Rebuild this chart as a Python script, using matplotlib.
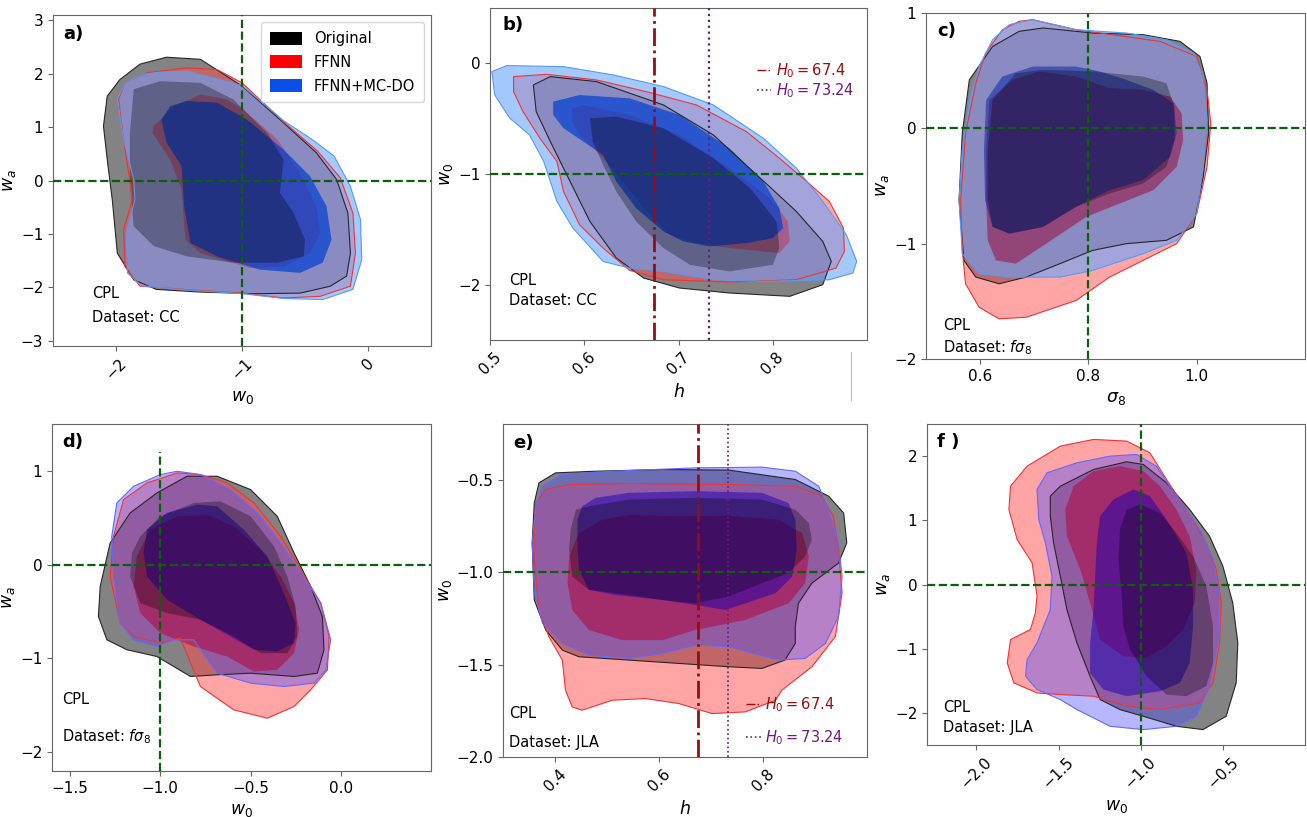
import matplotlib.pyplot as plt
from matplotlib.lines import Line2D
from matplotlib.patches import Patch

plt.rcParams['font.family'] = 'DejaVu Sans'
plt.rcParams['font.size'] = 10
plt.rcParams['mathtext.fontset'] = 'dejavusans'

# ---- contour boundaries: (x, y) in data units ----
# panel a: w0 vs wa, CC
a_orig_out = [(-1.60, 2.31), (-1.33, 2.27), (-1.00, 1.77), (-0.67, 1.08), (-0.41, 0.52), (-0.25, 0.02),
              (-0.16, -0.61), (-0.14, -1.36), (-0.17, -1.79), (-0.30, -1.98), (-0.54, -2.11), (-0.91, -2.12),
              (-1.33, -2.09), (-1.68, -2.04), (-1.86, -1.86), (-1.99, -1.36), (-2.03, -0.36), (-2.07, 0.39),
              (-2.10, 1.02), (-2.07, 1.58), (-1.97, 1.89), (-1.81, 2.18)]
a_red_out = [(-1.44, 2.11), (-1.20, 2.08), (-1.00, 1.83), (-0.67, 1.10), (-0.40, 0.55), (-0.22, 0.05),
             (-0.12, -0.61), (-0.10, -1.36), (-0.14, -1.98), (-0.38, -2.17), (-0.67, -2.20), (-1.00, -2.11),
             (-1.46, -2.04), (-1.81, -1.98), (-1.93, -1.61), (-1.94, -0.92), (-1.87, -0.36), (-1.90, 0.14),
             (-1.94, 0.77), (-1.98, 1.52), (-1.93, 1.83), (-1.75, 2.02)]
a_blue_out = [(-1.65, 2.03), (-1.44, 2.05), (-1.00, 1.78), (-0.67, 1.12), (-0.45, 0.78), (-0.27, 0.46),
              (-0.14, -0.11), (-0.06, -0.73), (-0.05, -1.48), (-0.12, -2.04), (-0.36, -2.23), (-0.67, -2.21),
              (-1.00, -2.12), (-1.46, -2.05), (-1.80, -1.97), (-1.91, -1.73), (-1.92, -0.98), (-1.85, -0.36),
              (-1.86, 0.02), (-1.94, 0.77), (-1.99, 1.52), (-1.93, 1.83), (-1.78, 1.99)]
a_orig_in = [(-1.86, 1.71), (-1.65, 1.86), (-1.33, 1.83), (-1.07, 1.52), (-0.80, 0.89), (-0.67, 0.39),
             (-0.70, -0.23), (-0.59, -0.61), (-0.50, -1.11), (-0.51, -1.42), (-0.72, -1.54), (-1.07, -1.54),
             (-1.44, -1.42), (-1.70, -1.23), (-1.86, -0.86), (-1.89, -0.04), (-1.89, 0.89)]
a_red_in = [(-1.70, 1.02), (-1.54, 1.39), (-1.33, 1.61), (-1.12, 1.52), (-0.99, 1.33), (-0.72, 0.77),
            (-0.54, 0.14), (-0.41, -0.48), (-0.38, -0.98), (-0.46, -1.36), (-0.67, -1.61), (-0.94, -1.64),
            (-1.33, -1.36), (-1.45, -1.11), (-1.48, -0.17), (-1.57, 0.39), (-1.71, 0.89)]
a_blue_in = [(-1.44, 1.49), (-1.20, 1.46), (-0.96, 1.14), (-0.67, 0.58), (-0.46, 0.08), (-0.33, -0.48),
             (-0.29, -1.11), (-0.36, -1.54), (-0.54, -1.73), (-0.86, -1.67), (-1.20, -1.42), (-1.41, -1.17),
             (-1.46, -0.48), (-1.48, 0.27), (-1.60, 0.71), (-1.64, 1.14), (-1.57, 1.39)]

# panel b: h vs w0, CC
b_orig_out = [(0.546, -0.195), (0.564, -0.12), (0.613, -0.165), (0.684, -0.376), (0.737, -0.647), (0.783, -1.008),
              (0.825, -1.338), (0.853, -1.609), (0.862, -1.789), (0.853, -2.0), (0.818, -2.105), (0.754, -2.075),
              (0.701, -2.03), (0.663, -1.94), (0.634, -1.759), (0.606, -1.429), (0.585, -1.068), (0.564, -0.707),
              (0.549, -0.436)]
b_red_out = [(0.525, -0.12), (0.560, -0.099), (0.613, -0.15), (0.666, -0.256), (0.719, -0.376), (0.772, -0.617),
             (0.807, -0.857), (0.836, -1.068), (0.860, -1.248), (0.875, -1.489), (0.876, -1.699), (0.867, -1.850),
             (0.825, -1.955), (0.754, -1.976), (0.684, -1.955), (0.648, -1.87), (0.620, -1.669), (0.595, -1.459),
             (0.578, -1.158), (0.571, -0.887), (0.553, -0.677), (0.535, -0.436), (0.525, -0.256)]
b_blue_out = [(0.502, -0.075), (0.518, -0.02), (0.578, -0.03), (0.631, -0.105), (0.684, -0.21), (0.737, -0.376),
              (0.790, -0.677), (0.825, -0.947), (0.853, -1.248), (0.878, -1.549), (0.889, -1.789), (0.885, -1.895),
              (0.860, -1.955), (0.790, -1.97), (0.737, -1.955), (0.684, -1.88), (0.648, -1.85), (0.620, -1.79),
              (0.588, -1.489), (0.571, -1.248), (0.557, -0.887), (0.542, -0.647), (0.521, -0.496), (0.505, -0.286)]
b_orig_in = [(0.606, -0.496), (0.634, -0.481), (0.684, -0.586), (0.737, -0.857), (0.776, -1.128), (0.804, -1.429),
             (0.807, -1.669), (0.800, -1.820), (0.754, -1.880), (0.712, -1.820), (0.684, -1.669), (0.655, -1.429),
             (0.634, -1.158), (0.620, -0.917), (0.609, -0.707)]
b_red_in = [(0.587, -0.406), (0.599, -0.376), (0.648, -0.466), (0.701, -0.647), (0.754, -0.947), (0.797, -1.218),
            (0.816, -1.429), (0.818, -1.609), (0.807, -1.714), (0.754, -1.669), (0.719, -1.624), (0.691, -1.549),
            (0.666, -1.338), (0.641, -1.068), (0.620, -0.857), (0.595, -0.647), (0.587, -0.526)]
b_blue_in = [(0.567, -0.346), (0.595, -0.286), (0.648, -0.316), (0.701, -0.466), (0.754, -0.767), (0.790, -1.068),
             (0.807, -1.308), (0.811, -1.489), (0.800, -1.579), (0.772, -1.624), (0.733, -1.654), (0.705, -1.609),
             (0.684, -1.519), (0.655, -1.308), (0.634, -1.068), (0.620, -0.827), (0.599, -0.707), (0.578, -0.586),
             (0.567, -0.466)]

# panel c: sigma8 vs wa, f sigma8
c_orig_out = [(0.580, 0.420), (0.623, 0.710), (0.672, 0.841), (0.716, 0.870), (0.808, 0.826), (0.901, 0.812),
              (0.969, 0.754), (1.006, 0.623), (1.019, 0.391), (1.022, -0.043), (1.012, -0.420), (0.994, -0.855),
              (0.944, -0.971), (0.870, -1.000), (0.808, -1.058), (0.747, -1.174), (0.685, -1.290), (0.635, -1.348),
              (0.592, -1.290), (0.570, -1.145), (0.561, -0.623), (0.567, -0.043)]
c_red_out = [(0.610, 0.652), (0.641, 0.855), (0.672, 0.928), (0.697, 0.942), (0.777, 0.855), (0.932, 0.754),
             (1.000, 0.623), (1.019, 0.333), (1.026, 0.043), (1.019, -0.333), (1.000, -0.739), (0.963, -1.000),
             (0.901, -1.145), (0.839, -1.290), (0.777, -1.493), (0.685, -1.638), (0.635, -1.652), (0.598, -1.551),
             (0.573, -1.348), (0.567, -1.058), (0.564, -0.623), (0.573, -0.043), (0.592, 0.391)]
c_blue_out = [(0.623, 0.768), (0.654, 0.899), (0.697, 0.942), (0.777, 0.855), (0.870, 0.826), (0.944, 0.768),
              (0.994, 0.652), (1.012, 0.449), (1.019, 0.072), (1.012, -0.333), (1.000, -0.739), (0.963, -0.971),
              (0.901, -1.087), (0.808, -1.232), (0.747, -1.290), (0.654, -1.290), (0.598, -1.261), (0.567, -1.087),
              (0.561, -0.623), (0.567, -0.188), (0.580, 0.246), (0.598, 0.536)]
c_orig_in = [(0.623, 0.246), (0.666, 0.478), (0.716, 0.507), (0.808, 0.493), (0.901, 0.449), (0.944, 0.391),
             (0.959, 0.188), (0.959, -0.101), (0.944, -0.333), (0.901, -0.478), (0.839, -0.565), (0.777, -0.681),
             (0.716, -0.855), (0.654, -0.913), (0.623, -0.855), (0.614, -0.623), (0.614, -0.188)]
c_red_in = [(0.617, 0.246), (0.660, 0.420), (0.709, 0.493), (0.777, 0.449), (0.839, 0.348), (0.901, 0.333),
            (0.951, 0.275), (0.972, 0.130), (0.975, -0.101), (0.963, -0.333), (0.920, -0.536), (0.858, -0.652),
            (0.796, -0.768), (0.722, -1.000), (0.666, -1.174), (0.629, -1.145), (0.614, -0.971), (0.611, -0.623),
            (0.611, -0.188)]
c_blue_in = [(0.611, 0.246), (0.641, 0.449), (0.697, 0.536), (0.777, 0.536), (0.821, 0.493), (0.870, 0.420),
             (0.920, 0.333), (0.957, 0.217), (0.963, -0.043), (0.951, -0.246), (0.901, -0.449), (0.839, -0.536),
             (0.777, -0.681), (0.716, -0.855), (0.654, -0.913), (0.623, -0.855), (0.609, -0.623), (0.607, -0.188)]

# panel d: w0 vs wa, f sigma8
d_orig_out = [(-1.019, 0.765), (-0.852, 0.943), (-0.685, 0.943), (-0.500, 0.801), (-0.352, 0.516), (-0.259, 0.125),
              (-0.167, -0.231), (-0.102, -0.552), (-0.093, -0.907), (-0.130, -1.157), (-0.259, -1.192),
              (-0.500, -1.157), (-0.685, -1.174), (-0.833, -1.192), (-0.926, -1.085), (-1.019, -0.979),
              (-1.185, -0.907), (-1.296, -0.801), (-1.343, -0.552), (-1.333, -0.231), (-1.278, 0.231), (-1.167, 0.552)]
d_red_out = [(-1.204, 0.694), (-1.074, 0.872), (-0.907, 0.979), (-0.778, 0.961), (-0.630, 0.872), (-0.481, 0.658),
             (-0.333, 0.302), (-0.222, -0.053), (-0.111, -0.409), (-0.065, -0.765), (-0.074, -1.121), (-0.167, -1.335),
             (-0.259, -1.512), (-0.407, -1.637), (-0.593, -1.548), (-0.778, -1.299), (-0.889, -0.783),
             (-1.000, -0.836), (-1.148, -0.765), (-1.222, -0.623), (-1.278, -0.125), (-1.259, 0.302)]
d_blue_out = [(-1.241, 0.658), (-1.148, 0.836), (-1.000, 0.961), (-0.907, 0.996), (-0.778, 0.961), (-0.611, 0.801),
              (-0.463, 0.552), (-0.333, 0.231), (-0.222, -0.089), (-0.111, -0.409), (-0.056, -0.801), (-0.083, -1.121),
              (-0.148, -1.263), (-0.315, -1.299), (-0.500, -1.263), (-0.685, -1.157), (-0.815, -0.801),
              (-0.926, -0.801), (-1.019, -0.872), (-1.148, -0.801), (-1.222, -0.623), (-1.259, -0.125), (-1.269, 0.302)]
d_orig_in = [(-1.111, 0.302), (-1.000, 0.516), (-0.815, 0.658), (-0.667, 0.676), (-0.500, 0.516), (-0.370, 0.196),
             (-0.296, -0.125), (-0.250, -0.445), (-0.241, -0.765), (-0.296, -0.943), (-0.444, -0.943), (-0.593, -0.765),
             (-0.778, -0.587), (-0.963, -0.516), (-1.111, -0.409), (-1.167, -0.125), (-1.157, 0.125)]
d_red_in = [(-1.130, 0.089), (-1.056, 0.374), (-0.907, 0.516), (-0.741, 0.534), (-0.593, 0.409), (-0.444, 0.160),
            (-0.333, -0.125), (-0.259, -0.409), (-0.231, -0.694), (-0.259, -0.943), (-0.352, -1.121), (-0.481, -1.139),
            (-0.630, -0.979), (-0.815, -0.872), (-1.000, -0.730), (-1.111, -0.516), (-1.148, -0.231)]
d_blue_in = [(-1.074, 0.374), (-0.963, 0.552), (-0.796, 0.641), (-0.685, 0.623), (-0.537, 0.374), (-0.407, 0.089),
             (-0.315, -0.302), (-0.250, -0.623), (-0.259, -0.836), (-0.352, -0.925), (-0.481, -0.907), (-0.611, -0.765),
             (-0.778, -0.587), (-0.963, -0.374), (-1.074, -0.125), (-1.093, 0.125)]

# panel e: h vs w0, JLA
e_orig_out = [(0.369, -0.518), (0.401, -0.464), (0.478, -0.455), (0.606, -0.446), (0.734, -0.449), (0.862, -0.500),
              (0.926, -0.590), (0.955, -0.681), (0.961, -0.843), (0.945, -0.952), (0.894, -1.060), (0.868, -1.169),
              (0.862, -1.295), (0.862, -1.386), (0.842, -1.476), (0.798, -1.521), (0.734, -1.512), (0.638, -1.494),
              (0.542, -1.476), (0.446, -1.458), (0.414, -1.422), (0.382, -1.313), (0.360, -1.151), (0.356, -0.843),
              (0.360, -0.627)]
e_red_out = [(0.363, -0.627), (0.382, -0.554), (0.427, -0.527), (0.542, -0.522), (0.734, -0.527), (0.862, -0.536),
             (0.913, -0.590), (0.935, -0.699), (0.945, -0.880), (0.952, -1.114), (0.939, -1.349), (0.894, -1.512),
             (0.836, -1.639), (0.824, -1.693), (0.766, -1.756), (0.702, -1.765), (0.638, -1.711), (0.574, -1.684),
             (0.510, -1.693), (0.452, -1.747), (0.433, -1.729), (0.420, -1.639), (0.414, -1.476), (0.388, -1.349),
             (0.369, -1.205), (0.360, -0.934), (0.360, -0.717)]
e_blue_out = [(0.376, -0.536), (0.414, -0.473), (0.510, -0.455), (0.670, -0.437), (0.798, -0.433), (0.862, -0.455),
              (0.907, -0.536), (0.926, -0.663), (0.945, -0.843), (0.952, -1.024), (0.945, -1.241), (0.920, -1.386),
              (0.881, -1.467), (0.830, -1.476), (0.734, -1.404), (0.670, -1.395), (0.606, -1.440), (0.542, -1.467),
              (0.465, -1.449), (0.414, -1.386), (0.376, -1.277), (0.360, -1.114), (0.356, -0.843), (0.363, -0.645)]
e_orig_in = [(0.440, -0.663), (0.465, -0.645), (0.542, -0.608), (0.670, -0.599), (0.798, -0.608), (0.862, -0.663),
             (0.888, -0.735), (0.894, -0.825), (0.881, -0.916), (0.849, -1.006), (0.798, -1.060), (0.734, -1.133),
             (0.670, -1.169), (0.606, -1.151), (0.542, -1.124), (0.465, -1.096), (0.433, -1.024), (0.427, -0.880),
             (0.430, -0.771)]
e_red_in = [(0.427, -0.916), (0.446, -0.789), (0.491, -0.717), (0.542, -0.690), (0.638, -0.699), (0.734, -0.695),
            (0.830, -0.717), (0.875, -0.789), (0.888, -0.916), (0.881, -1.060), (0.849, -1.169), (0.766, -1.259),
            (0.670, -1.313), (0.606, -1.368), (0.529, -1.368), (0.465, -1.313), (0.433, -1.205), (0.424, -1.060)]
e_blue_in = [(0.452, -0.645), (0.478, -0.599), (0.542, -0.572), (0.670, -0.563), (0.798, -0.572), (0.849, -0.627),
             (0.862, -0.717), (0.865, -0.880), (0.856, -1.024), (0.824, -1.114), (0.766, -1.169), (0.728, -1.205),
             (0.670, -1.178), (0.606, -1.151), (0.516, -1.124), (0.465, -1.096), (0.446, -0.988), (0.443, -0.843),
             (0.443, -0.717)]

# panel f: w0 vs wa, JLA
f_orig_out = [(-1.550, 1.377), (-1.489, 1.532), (-1.287, 1.792), (-1.085, 1.912), (-0.984, 1.870), (-0.843, 1.584),
              (-0.702, 1.169), (-0.581, 0.753), (-0.500, 0.286), (-0.440, -0.286), (-0.409, -0.909), (-0.419, -1.532),
              (-0.480, -2.052), (-0.621, -2.260), (-0.783, -2.208), (-0.984, -2.052), (-1.126, -1.948),
              (-1.247, -1.792), (-1.308, -1.429), (-1.388, -0.909), (-1.449, -0.390), (-1.489, 0.130), (-1.530, 0.649),
              (-1.550, 1.065)]
f_red_out = [(-1.792, 1.532), (-1.691, 1.844), (-1.489, 2.156), (-1.287, 2.260), (-1.085, 2.234), (-0.944, 2.052),
             (-0.843, 1.636), (-0.722, 1.169), (-0.601, 0.649), (-0.540, 0.234), (-0.510, -0.286), (-0.520, -0.909),
             (-0.560, -1.532), (-0.641, -1.844), (-0.883, -1.948), (-1.085, -1.896), (-1.287, -1.740),
             (-1.489, -1.714), (-1.631, -1.688), (-1.772, -1.532), (-1.812, -1.221), (-1.792, -0.857),
             (-1.671, -0.701), (-1.641, -0.442), (-1.631, -0.182), (-1.661, 0.338), (-1.752, 0.701), (-1.802, 1.169)]
f_blue_out = [(-1.631, 1.481), (-1.570, 1.740), (-1.388, 1.896), (-1.186, 2.000), (-1.025, 2.026), (-0.905, 1.844),
              (-0.783, 1.377), (-0.641, 0.857), (-0.560, 0.390), (-0.520, -0.182), (-0.530, -0.909), (-0.581, -1.584),
              (-0.661, -2.052), (-0.783, -2.208), (-0.984, -2.260), (-1.186, -2.208), (-1.388, -1.948),
              (-1.489, -1.792), (-1.631, -1.636), (-1.701, -1.429), (-1.691, -1.169), (-1.631, -0.909),
              (-1.550, -0.390), (-1.540, 0.130), (-1.580, 0.649), (-1.620, 1.013)]
f_orig_in = [(-1.126, 0.857), (-1.085, 1.169), (-1.005, 1.247), (-0.883, 1.117), (-0.783, 0.805), (-0.681, 0.442),
             (-0.601, -0.026), (-0.560, -0.649), (-0.560, -1.221), (-0.601, -1.584), (-0.722, -1.740), (-0.843, -1.714),
             (-0.964, -1.429), (-1.065, -1.013), (-1.106, -0.649), (-1.116, -0.130), (-1.136, 0.390)]
f_red_in = [(-1.459, 1.169), (-1.408, 1.532), (-1.287, 1.766), (-1.126, 1.844), (-0.984, 1.766), (-0.883, 1.532),
            (-0.783, 1.169), (-0.702, 0.753), (-0.661, 0.234), (-0.671, -0.286), (-0.742, -0.701), (-0.843, -0.961),
            (-0.964, -1.143), (-1.106, -1.117), (-1.247, -0.857), (-1.308, -0.286), (-1.368, 0.234), (-1.449, 0.753)]
f_blue_in = [(-1.247, 1.065), (-1.166, 1.325), (-1.045, 1.481), (-0.944, 1.377), (-0.843, 1.013), (-0.722, 0.494),
             (-0.681, -0.078), (-0.681, -0.649), (-0.702, -1.221), (-0.762, -1.532), (-0.883, -1.662), (-1.085, -1.740),
             (-1.227, -1.636), (-1.308, -1.377), (-1.308, -0.909), (-1.287, -0.390), (-1.277, 0.130), (-1.267, 0.649)]

# fiducial values and H0 lines
w0_fid = -1.0
wa_fid = 0.0
sigma8_fid = 0.8
h_planck = 0.674
h_riess = 0.7324
d_vline_top = 1.2

legend_names = ['Original', 'FFNN', 'FFNN+MC-DO']
h0_labels = [r'$H_0 = 67.4$', r'$H_0 = 73.24$']

# ---- styles ----
GREEN = '#0b5e0b'
H0_RED = '#9a0c0c'
H0_PURPLE = '#6e1a78'

style_top = dict(blue_out=(0.40, 0.65, 1.0), blue_out_a=0.6, blue_edge=(0.35, 0.60, 0.95),
                 blue_in=(0.0, 0.25, 0.82), blue_in_a=0.7, red_in=(0.8, 0.1, 0.2), red_in_a=0.4)
style_c = dict(blue_out=(0.40, 0.65, 1.0), blue_out_a=0.6, blue_edge=(0.35, 0.60, 0.95),
               blue_in=(0.05, 0.15, 0.65), blue_in_a=0.55, red_in=(0.6, 0.0, 0.2), red_in_a=0.5)
style_bot = dict(blue_out=(0.30, 0.30, 1.0), blue_out_a=0.4, blue_edge=(0.40, 0.40, 1.0),
                 blue_in=(0.1, 0.0, 0.7), blue_in_a=0.5, red_in=(0.7, 0.0, 0.2), red_in_a=0.5)


def poly(ax, pts, **kw):
    xs, ys = zip(*pts)
    ax.fill(xs, ys, joinstyle='round', **kw)


def draw_contours(ax, orig, red, blue, st):
    (o_out, o_in), (r_out, r_in), (b_out, b_in) = orig, red, blue
    # outer (95%) regions
    poly(ax, o_out, color=(0.35, 0.35, 0.35), alpha=0.75, lw=0)
    poly(ax, r_out, color=(1.0, 0.3, 0.3), alpha=0.5, lw=0)
    poly(ax, b_out, color=st['blue_out'], alpha=st['blue_out_a'], lw=0)
    # inner (68%) regions
    poly(ax, r_in, color=st['red_in'], alpha=st['red_in_a'], lw=0)
    poly(ax, b_in, color=st['blue_in'], alpha=st['blue_in_a'], lw=0)
    poly(ax, o_in, color='black', alpha=0.3, lw=0)
    # outlines of outer regions
    poly(ax, o_out, fill=False, edgecolor='0.15', lw=0.8)
    poly(ax, r_out, fill=False, edgecolor=(0.95, 0.2, 0.2), lw=0.8)
    poly(ax, b_out, fill=False, edgecolor=st['blue_edge'], lw=0.8)


fig = plt.figure(figsize=(13.07, 8.17), dpi=100)

axes_pos = {
    'a': [0.0406, 0.5765, 0.2892, 0.4051],
    'b': [0.3749, 0.5838, 0.2885, 0.4064],
    'c': [0.7085, 0.5606, 0.2900, 0.4235],
    'd': [0.0398, 0.0563, 0.2900, 0.4247],
    'e': [0.3849, 0.0734, 0.2785, 0.4076],
    'f': [0.7093, 0.0881, 0.2892, 0.3929],
}
axs = {k: fig.add_axes(p) for k, p in axes_pos.items()}

draw_contours(axs['a'], (a_orig_out, a_orig_in), (a_red_out, a_red_in), (a_blue_out, a_blue_in), style_top)
draw_contours(axs['b'], (b_orig_out, b_orig_in), (b_red_out, b_red_in), (b_blue_out, b_blue_in), style_top)
draw_contours(axs['c'], (c_orig_out, c_orig_in), (c_red_out, c_red_in), (c_blue_out, c_blue_in), style_c)
draw_contours(axs['d'], (d_orig_out, d_orig_in), (d_red_out, d_red_in), (d_blue_out, d_blue_in), style_bot)
draw_contours(axs['e'], (e_orig_out, e_orig_in), (e_red_out, e_red_in), (e_blue_out, e_blue_in), style_bot)
draw_contours(axs['f'], (f_orig_out, f_orig_in), (f_red_out, f_red_in), (f_blue_out, f_blue_in), style_bot)

gl = dict(color=GREEN, ls='--', lw=1.6, zorder=5)

# a
ax = axs['a']
ax.axvline(w0_fid, **gl)
ax.axhline(wa_fid, **gl)
ax.set_xlim(-2.5, 0.5)
ax.set_ylim(-3.1, 3.1)
ax.set_xticks([-2, -1, 0])
ax.set_yticks([-3, -2, -1, 0, 1, 2, 3])
ax.set_xlabel(r'$w_0$')
ax.set_ylabel(r'$w_a$')
handles = [Patch(facecolor='black'), Patch(facecolor='red'), Patch(facecolor='#0a50e6')]
ax.legend(handles, legend_names, loc='upper right', fontsize=10.5, handlelength=2.2, handleheight=1.0,
          labelspacing=0.6, borderpad=0.6)

# b
ax = axs['b']
ax.axhline(w0_fid, **gl)
l1 = ax.axvline(h_planck, color=H0_RED, ls='-.', lw=2.0, zorder=5)
l2 = ax.axvline(h_riess, color=H0_PURPLE, ls=':', lw=1.6, zorder=5)
ax.set_xlim(0.5, 0.9)
ax.set_ylim(-2.5, 0.5)
ax.set_xticks([0.5, 0.6, 0.7, 0.8])
ax.set_yticks([-2, -1, 0])
ax.set_xlabel(r'$h$')
ax.set_ylabel(r'$w_0$')
ax.legend([Line2D([], [], color=H0_RED, ls='-.', lw=1), Line2D([], [], color=H0_PURPLE, ls=':', lw=1.2)],
          h0_labels, loc='upper right', bbox_to_anchor=(1.0, 0.88), frameon=False,
          labelcolor=[H0_RED, H0_PURPLE], handlelength=1.0, handletextpad=0.3, labelspacing=0.1, fontsize=10.5)

# c
ax = axs['c']
ax.axvline(sigma8_fid, **gl)
ax.axhline(wa_fid, **gl)
ax.set_xlim(0.5, 1.2)
ax.set_ylim(-2, 1)
ax.set_xticks([0.6, 0.8, 1.0])
ax.set_yticks([-2, -1, 0, 1])
ax.set_xlabel(r'$\sigma_8$')
ax.set_ylabel(r'$w_a$')

# d
ax = axs['d']
ax.set_xlim(-1.6, 0.5)
ax.set_ylim(-2.2, 1.5)
ax.axvline(w0_fid, ymax=(d_vline_top + 2.2) / 3.7, **gl)
ax.axhline(wa_fid, **gl)
ax.set_xticks([-1.5, -1.0, -0.5, 0.0])
ax.set_yticks([-2, -1, 0, 1])
ax.set_xlabel(r'$w_0$')
ax.set_ylabel(r'$w_a$')

# e
ax = axs['e']
ax.axhline(w0_fid, **gl)
l1 = ax.axvline(h_planck, color=H0_RED, ls='-.', lw=2.0, zorder=5)
l2 = ax.axvline(h_riess, color=H0_PURPLE, ls=':', lw=1.2, zorder=5)
ax.set_xlim(0.3, 1.0)
ax.set_ylim(-2.0, -0.2)
ax.set_xticks([0.4, 0.6, 0.8])
ax.set_yticks([-2.0, -1.5, -1.0, -0.5])
ax.set_xlabel(r'$h$')
ax.set_ylabel(r'$w_0$')
ax.legend([Line2D([], [], color=H0_RED, ls='-.', lw=1), Line2D([], [], color=H0_PURPLE, ls=':', lw=1.2)],
          h0_labels, loc='lower right', bbox_to_anchor=(0.97, -0.01), frameon=False,
          labelcolor=[H0_RED, H0_PURPLE], handlelength=1.0, handletextpad=0.3, labelspacing=1.0, fontsize=10.5)

# f
ax = axs['f']
ax.axvline(w0_fid, **gl)
ax.axhline(wa_fid, **gl)
ax.set_xlim(-2.3, 0.0)
ax.set_ylim(-2.5, 2.5)
ax.set_xticks([-2.0, -1.5, -1.0, -0.5])
ax.set_yticks([-2, -1, 0, 1, 2])
ax.set_xlabel(r'$w_0$')
ax.set_ylabel(r'$w_a$')

# panel tags and dataset notes
tags = {'a': ('a)', 0.026, 0.943), 'b': ('b)', 0.032, 0.949), 'c': ('c)', 0.029, 0.948),
        'd': ('d)', 0.026, 0.948), 'e': ('e)', 0.027, 0.943), 'f': ('f )', 0.026, 0.944)}
notes = {'a': ('Dataset: CC', 0.103, 0.16, 0.085), 'b': ('Dataset: CC', 0.05, 0.18, 0.12),
         'c': (r'Dataset: $f\sigma_8$', 0.045, 0.098, 0.032), 'd': (r'Dataset: $f\sigma_8$', 0.026, 0.205, 0.10),
         'e': ('Dataset: JLA', 0.016, 0.132, 0.045), 'f': ('Dataset: JLA', 0.042, 0.118, 0.056)}

for k, ax in axs.items():
    t, tx, ty = tags[k]
    ax.text(tx, ty, t, transform=ax.transAxes, fontsize=13, fontweight='bold', va='center', ha='left')
    ds, nx, y1, y2 = notes[k]
    ax.text(nx, y1, 'CPL', transform=ax.transAxes, fontsize=10.5, va='center', ha='left')
    ax.text(nx, y2, ds, transform=ax.transAxes, fontsize=10.5, va='center', ha='left')
    for s in ax.spines.values():
        s.set_color('0.4')
    ax.tick_params(labelsize=11, color='0.4')
    ax.xaxis.label.set_size(12.5)
    ax.yaxis.label.set_size(12.5)
    ax.yaxis.labelpad = 2
    if k in ('a', 'b', 'e', 'f'):
        plt.setp(ax.get_xticklabels(), rotation=45)

# stray rule left in the source image
fig.add_artist(Line2D([851 / 1307, 851 / 1307], [1 - 352 / 817, 1 - 400 / 817], color='0.75', lw=0.8))

fig.savefig('out.png', dpi=100)
